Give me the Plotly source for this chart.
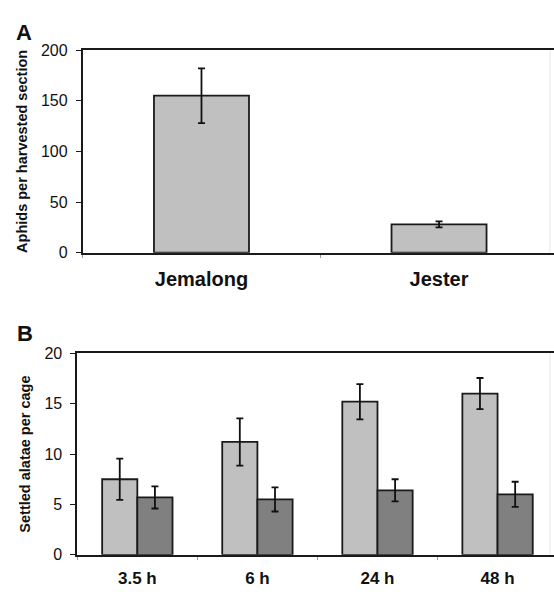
import plotly.graph_objects as go

# Panel A data
cultivars = ["Jemalong", "Jester"]
aphids = [155, 28]
aphids_err = [27, 3]

# Panel B data
times = ["3.5 h", "6 h", "24 h", "48 h"]
settled_jemalong = [7.5, 11.2, 15.2, 16.0]
settled_jemalong_err = [2.05, 2.35, 1.75, 1.55]
settled_jester = [5.7, 5.5, 6.4, 6.0]
settled_jester_err = [1.1, 1.2, 1.1, 1.25]

W, H = 554, 592
FONT = "Liberation Sans, Arial, sans-serif"
LINE = "#1a1a1a"

fig = go.Figure()

err_style = dict(type="data", color="#111", thickness=1.8)

fig.add_trace(go.Bar(
    x=cultivars, y=aphids, width=0.4,
    marker=dict(color="#c0c0c0", line=dict(color=LINE, width=1.8)),
    error_y=dict(array=aphids_err, width=3.5, **err_style),
    xaxis="x", yaxis="y", showlegend=False,
))
fig.add_trace(go.Bar(
    x=times, y=settled_jemalong, width=0.293, offset=-0.293,
    marker=dict(color="#c0c0c0", line=dict(color=LINE, width=1.8)),
    error_y=dict(array=settled_jemalong_err, width=3.5, **err_style),
    xaxis="x2", yaxis="y2", showlegend=False,
))
fig.add_trace(go.Bar(
    x=times, y=settled_jester, width=0.293, offset=0,
    marker=dict(color="#808080", line=dict(color=LINE, width=1.8)),
    error_y=dict(array=settled_jester_err, width=3.5, **err_style),
    xaxis="x2", yaxis="y2", showlegend=False,
))

def px_x(p):
    return p / W

def px_y(p):
    return (H - p) / H

common_x = dict(type="category", showline=True, linecolor=LINE, linewidth=1.8,
                mirror=True, ticks="outside", ticklen=3, tickcolor="#999",
                tickson="boundaries", showgrid=False, zeroline=False,
                ticklabelstandoff=7)
common_y = dict(showline=True, linecolor=LINE, linewidth=1.8, ticks="outside",
                ticklen=5, tickcolor=LINE, showgrid=False, zeroline=False,
                tickfont=dict(family=FONT, size=16, color="#111"),
                ticklabelstandoff=5)

fig.update_layout(
    width=W, height=H,
    margin=dict(l=0, r=0, t=0, b=0),
    paper_bgcolor="white", plot_bgcolor="white",
    barmode="overlay",
    xaxis=dict(domain=[px_x(82.7), 1], range=[-0.5, 1.484], anchor="y",
               tickfont=dict(family=FONT, size=20, color="#111", weight="bold"),
               **common_x),
    yaxis=dict(domain=[px_y(252), px_y(43.3)], range=[0, 200], dtick=50,
               anchor="x",
               title=dict(text="Aphids per harvested section", standoff=10,
                          font=dict(family=FONT, size=14.5, color="#111", weight="bold")),
               **common_y),
    xaxis2=dict(domain=[px_x(77.3), 1], range=[-0.5, 3.47], anchor="y2",
                tickfont=dict(family=FONT, size=17, color="#111", weight="bold"),
                **common_x),
    yaxis2=dict(domain=[px_y(563), px_y(355.5)], range=[0, 20], dtick=5,
                anchor="x2",
                title=dict(text="Settled alatae per cage", standoff=10,
                           font=dict(family=FONT, size=14.5, color="#111", weight="bold")),
                **common_y),
    annotations=[
        dict(text="<b>A</b>", x=px_x(24), y=px_y(25), xref="paper", yref="paper",
             xanchor="center", yanchor="middle",
             showarrow=False, font=dict(family=FONT, size=22, color="#111")),
        dict(text="<b>B</b>", x=px_x(25), y=px_y(335), xref="paper", yref="paper",
             xanchor="center", yanchor="middle",
             showarrow=False, font=dict(family=FONT, size=22, color="#111")),
    ],
    shapes=[
        dict(type="line", xref="paper", yref="paper", x0=px_x(550), x1=px_x(550),
             y0=px_y(252), y1=px_y(43.3), line=dict(color="#e8e8e8", width=1)),
        dict(type="line", xref="paper", yref="paper", x0=px_x(550), x1=px_x(550),
             y0=px_y(563), y1=px_y(355.5), line=dict(color="#e8e8e8", width=1)),
    ],
)

fig.write_html("out.html")
